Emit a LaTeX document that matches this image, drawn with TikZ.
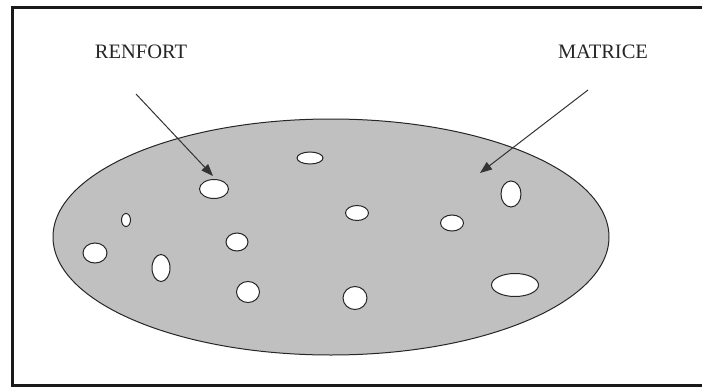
\documentclass[tikz,border=0pt]{standalone}
\usepackage{fontspec}
\setmainfont{Liberation Serif}
\usetikzlibrary{arrows.meta}
\definecolor{matgray}{HTML}{C0C0C0}
\tikzset{
  hole/.style={draw=black!85, fill=white, line width=1pt},
  lbl/.style={font=\fontsize{20.5}{22}\selectfont, text=black!85, inner sep=0pt, anchor=center},
  pointer/.style={draw=black!80, line width=1pt, -{Triangle[length=12pt,width=9pt]}}
}
\begin{document}
\begin{tikzpicture}[x=1pt,y=-1pt]
\useasboundingbox (0,0) rectangle (702,388);
\begin{scope}
\clip (0,0) rectangle (702,388);
\draw[line width=2.2pt, black!90] (12.5,7.5) rectangle (710,385.5);
\end{scope}
% matrix
\draw[fill=matgray, draw=black!85, line width=1pt] (331,237) ellipse [x radius=278, y radius=118];
% reinforcements
\draw[hole] (310,158) ellipse [x radius=13, y radius=6];
\draw[hole] (214,189) ellipse [x radius=14.5, y radius=9.5];
\draw[hole] (126,220) ellipse [x radius=4.5, y radius=6.5];
\draw[hole] (95,253) ellipse [x radius=12, y radius=10];
\draw[hole] (161,268) ellipse [x radius=9, y radius=13.5];
\draw[hole] (237,242) ellipse [x radius=11, y radius=9];
\draw[hole] (248,292) ellipse [x radius=11.5, y radius=10.5];
\draw[hole] (357,213) ellipse [x radius=11.5, y radius=7.5];
\draw[hole] (355,298) ellipse [x radius=12, y radius=11.5];
\draw[hole] (452,223) ellipse [x radius=11.5, y radius=8];
\draw[hole] (511,194) ellipse [x radius=10, y radius=13];
\draw[hole] (515,285) ellipse [x radius=23.5, y radius=11.5];
% labels
\node[lbl] (renfort) at (141,52) {RENFORT};
\node[lbl] (matrice) at (603,52) {MATRICE};
\coordinate (rstart) at (136,94);
\coordinate (rtip) at (213,176);
\coordinate (mstart) at (588,90);
\coordinate (mtip) at (480,173);
\draw[pointer] (rstart) -- (rtip);
\draw[pointer] (mstart) -- (mtip);
\end{tikzpicture}
\end{document}
